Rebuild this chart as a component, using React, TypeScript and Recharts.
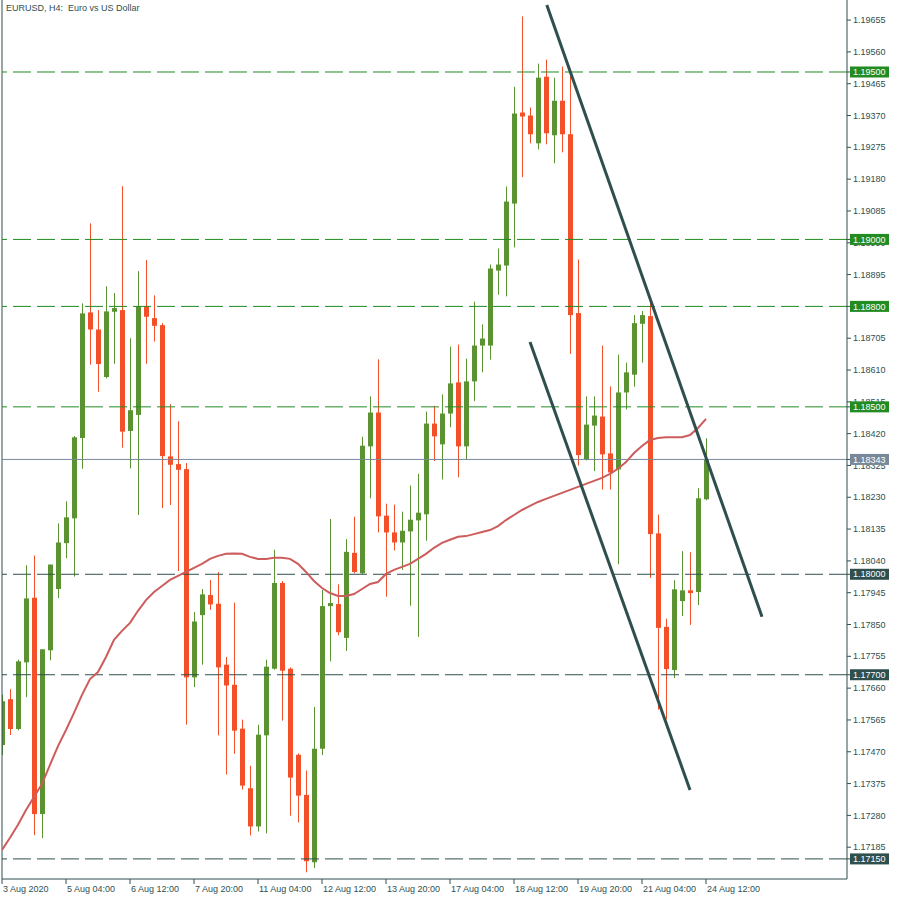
import { ComposedChart, Bar, Line, XAxis, YAxis, ReferenceLine } from "recharts";

// EURUSD H4, bars from 3 Aug 20:00 to 24 Aug 12:00
const open = [
  1.1749, 1.17627, 1.17538, 1.17737, 1.1793, 1.17284, 1.17773, 1.17956, 1.18093, 1.18167,
  1.18407, 1.18782, 1.18731, 1.18589, 1.18784, 1.18789, 1.18428, 1.18476, 1.188, 1.18765,
  1.18744, 1.18352, 1.18329, 1.18314, 1.17692, 1.17878, 1.17938, 1.17912, 1.1773, 1.1767,
  1.17539, 1.17361, 1.17247, 1.17519, 1.17718, 1.17974, 1.17718, 1.17461, 1.17341, 1.1714,
  1.17479, 1.17905, 1.17911, 1.1781, 1.18064, 1.18003, 1.18382, 1.18483, 1.18175, 1.18125,
  1.18095, 1.18128, 1.18161, 1.18179, 1.1845, 1.18388, 1.1848, 1.18573, 1.18382, 1.18576,
  1.18683, 1.18683, 1.18907, 1.18922, 1.19107, 1.19379, 1.1937, 1.19287, 1.19486, 1.19311,
  1.19414, 1.19314, 1.1878, 1.18343, 1.18444, 1.18471, 1.18361, 1.18313, 1.18543, 1.18596,
  1.18748, 1.18771, 1.18122, 1.17843, 1.17714, 1.1792, 1.17952, 1.17947, 1.18224,
];
const high = [
  1.1764, 1.17657, 1.17745, 1.18027, 1.18056, 1.17776, 1.18029, 1.18152, 1.18218, 1.18413,
  1.18809, 1.19048, 1.18789, 1.1886, 1.1884, 1.19159, 1.18705, 1.18905, 1.18938, 1.18833,
  1.1875, 1.18508, 1.18457, 1.18332, 1.17887, 1.17956, 1.17983, 1.18007, 1.17753, 1.17915,
  1.17566, 1.17428, 1.17551, 1.17745, 1.18073, 1.1798, 1.17722, 1.17465, 1.17414, 1.17604,
  1.17953, 1.18165, 1.1797, 1.18105, 1.18172, 1.18411, 1.18531, 1.18642, 1.18211, 1.18208,
  1.18187, 1.18265, 1.183, 1.18486, 1.18503, 1.18537, 1.1868, 1.18686, 1.18644, 1.18814,
  1.18746, 1.18925, 1.18973, 1.19158, 1.19456, 1.19666, 1.19394, 1.19525, 1.19537, 1.19483,
  1.19516, 1.19492, 1.1894, 1.18531, 1.18531, 1.18683, 1.18561, 1.18656, 1.18632, 1.18774,
  1.18786, 1.1881, 1.18178, 1.17867, 1.17982, 1.18069, 1.18066, 1.18257, 1.18406,
];
const low = [
  1.1746, 1.1752, 1.17534, 1.17633, 1.17221, 1.17212, 1.17743, 1.17929, 1.18048, 1.17993,
  1.18315, 1.18626, 1.18545, 1.18585, 1.18629, 1.18378, 1.18316, 1.18177, 1.18629, 1.18695,
  1.18198, 1.18207, 1.1801, 1.17551, 1.17663, 1.1773, 1.17894, 1.17519, 1.17402, 1.17464,
  1.17357, 1.1722, 1.17232, 1.17226, 1.17715, 1.17563, 1.17279, 1.17259, 1.1711, 1.17123,
  1.1746, 1.1774, 1.17818, 1.17771, 1.18003, 1.18, 1.18227, 1.18125, 1.17933, 1.18071,
  1.18013, 1.17906, 1.17813, 1.181, 1.18338, 1.18283, 1.18439, 1.1829, 1.18342, 1.18517,
  1.18603, 1.18641, 1.18835, 1.1883, 1.18976, 1.19186, 1.19287, 1.19269, 1.19284, 1.19227,
  1.1926, 1.18658, 1.18325, 1.1834, 1.18308, 1.18253, 1.18253, 1.1803, 1.18492, 1.1856,
  1.18632, 1.17989, 1.17596, 1.17567, 1.1769, 1.17875, 1.17849, 1.17908, 1.18221,
];
const close = [
  1.17621, 1.17538, 1.1774, 1.17928, 1.17284, 1.17776, 1.18029, 1.18095, 1.1817, 1.18409,
  1.18779, 1.18731, 1.18628, 1.18785, 1.18795, 1.18426, 1.1849, 1.188, 1.18769, 1.18742,
  1.18353, 1.18327, 1.18312, 1.17692, 1.17859, 1.1794, 1.1791, 1.17722, 1.17668, 1.17533,
  1.17369, 1.17247, 1.17521, 1.17724, 1.17974, 1.17712, 1.17393, 1.17339, 1.17143, 1.17479,
  1.17905, 1.17914, 1.17827, 1.18067, 1.18007, 1.18384, 1.18483, 1.18173, 1.18125, 1.18095,
  1.1813, 1.18163, 1.18184, 1.1845, 1.18412, 1.1848, 1.1857, 1.18382, 1.18576, 1.18683,
  1.18704, 1.18913, 1.18925, 1.19113, 1.19376, 1.19367, 1.19314, 1.19483, 1.19317, 1.19414,
  1.19314, 1.18774, 1.18356, 1.18447, 1.18474, 1.18358, 1.18304, 1.18543, 1.18603, 1.1875,
  1.18774, 1.1812, 1.1784, 1.17717, 1.17955, 1.17952, 1.17944, 1.18227, 1.18343,
];
// moving average
const ma = [
  1.17177, 1.17213, 1.17252, 1.17296, 1.17335, 1.17374, 1.17431, 1.17487, 1.17535, 1.17586,
  1.1764, 1.17687, 1.17708, 1.17753, 1.17804, 1.17831, 1.17855, 1.17891, 1.17923, 1.17947,
  1.17965, 1.17983, 1.17995, 1.18007, 1.18019, 1.18031, 1.18046, 1.18055, 1.18061, 1.18062,
  1.18061, 1.18052, 1.18046, 1.18046, 1.18049, 1.18049, 1.18046, 1.18031, 1.18007, 1.1798,
  1.17959, 1.17944, 1.17935, 1.17935, 1.17941, 1.17956, 1.17971, 1.17977, 1.18001, 1.18013,
  1.18022, 1.18031, 1.18046, 1.18061, 1.18079, 1.18094, 1.18103, 1.18112, 1.18114, 1.1812,
  1.18126, 1.18132, 1.18144, 1.18162, 1.18177, 1.18192, 1.18204, 1.18216, 1.18225, 1.18234,
  1.18243, 1.18252, 1.18261, 1.1827, 1.18279, 1.18288, 1.183, 1.18315, 1.18335, 1.18362,
  1.18383, 1.18401, 1.18407, 1.18409, 1.18409, 1.18409, 1.18416, 1.18437, 1.18464,
];

const timeTicks = [0, 8, 16, 24, 32, 40, 48, 56, 64, 72, 80, 88];
const timeLabels = [
  "3 Aug 2020", "5 Aug 04:00", "6 Aug 12:00", "7 Aug 20:00", "11 Aug 04:00", "12 Aug 12:00",
  "13 Aug 20:00", "17 Aug 04:00", "18 Aug 12:00", "19 Aug 20:00", "21 Aug 04:00", "24 Aug 12:00",
];
const priceTicks = [
  1.19655, 1.1956, 1.19465, 1.1937, 1.19275, 1.1918, 1.19085, 1.1899, 1.18895, 1.18705,
  1.1861, 1.18515, 1.1842, 1.18325, 1.1823, 1.18135, 1.1804, 1.17945, 1.1785, 1.17755,
  1.1766, 1.17565, 1.1747, 1.17375, 1.1728, 1.17185,
];
const greenLevels = [1.195, 1.19, 1.188, 1.185];
const darkLevels = [1.18, 1.177, 1.1715];
const lastPrice = 1.18343;

const upperChannel = [
  { bar: 68.1, price: 1.197 },
  { bar: 95, price: 1.17873 },
];
const lowerChannel = [
  { bar: 66, price: 1.18694 },
  { bar: 86, price: 1.17356 },
];

const GREEN = "#5b9232";
const RED = "#f34f28";
const LEVEL_GREEN = "#228b22";
const DARK = "#2f4f4f";
const GREY = "#778899";
const FONT = "'Liberation Sans', Arial, sans-serif";

const data = open.map((o, i) => ({
  i,
  open: o,
  high: high[i],
  low: low[i],
  close: close[i],
  range: [low[i], high[i]],
  ma: ma[i],
}));

const Candle = (props: any) => {
  const { x, y, width, height, payload } = props;
  const { open: o, close: c, high: h, low: l } = payload;
  const color = c >= o ? GREEN : RED;
  const top = Math.min(y, y + height);
  const hh = Math.abs(height);
  const py = (v: number) => top + ((h - v) / (h - l)) * hh;
  const cx = Math.round(x + width / 2);
  const bTop = py(Math.max(o, c));
  const bBot = py(Math.min(o, c));
  return (
    <g>
      <line x1={cx + 0.5} x2={cx + 0.5} y1={top} y2={top + hh} stroke={color} strokeWidth={1} />
      <rect x={cx - 2} y={bTop} width={5} height={Math.max(1, bBot - bTop)} fill={color} />
    </g>
  );
};

const XTick = (props: any) => {
  const { x, y, payload } = props;
  const idx = timeTicks.indexOf(payload.value);
  return (
    <text x={x + 1} y={y} dy="0.71em" fontSize={9} fontFamily={FONT} fill={DARK}>
      {timeLabels[idx]}
    </text>
  );
};

const YTick = (props: any) => {
  const { x, y, payload } = props;
  const v = payload.value;
  let box: string | null = null;
  if (greenLevels.includes(v)) box = LEVEL_GREEN;
  else if (darkLevels.includes(v)) box = DARK;
  else if (v === lastPrice) box = GREY;
  if (box) {
    return (
      <g>
        <rect x={x - 3} y={y - 5.5} width={39} height={11} fill={box} />
        <text x={x} y={y} dy="0.35em" fontSize={9} fontFamily={FONT} fill="#ffffff">
          {v.toFixed(5)}
        </text>
      </g>
    );
  }
  return (
    <text x={x} y={y} dy="0.35em" fontSize={9} fontFamily={FONT} fill={DARK}>
      {v.toFixed(5)}
    </text>
  );
};

export default function App() {
  return (
    <div style={{ position: "absolute", left: 0, top: 0, width: 900, height: 900, background: "#fff" }}>
      <ComposedChart width={900} height={900} data={data} margin={{ top: 0, right: 0, bottom: 0, left: 2 }}>
        <XAxis
          type="number"
          dataKey="i"
          domain={[0, 105.625]}
          allowDataOverflow
          ticks={timeTicks}
          interval={0}
          tick={<XTick />}
          tickSize={5}
          tickMargin={2}
          height={21}
          axisLine={{ stroke: DARK }}
          tickLine={{ stroke: DARK }}
        />
        <YAxis
          orientation="right"
          type="number"
          domain={[1.1709, 1.19715]}
          allowDataOverflow
          ticks={[...priceTicks, ...greenLevels, ...darkLevels, lastPrice]}
          interval={0}
          tick={<YTick />}
          tickSize={4}
          tickMargin={2}
          width={53}
          axisLine={{ stroke: DARK }}
          tickLine={{ stroke: DARK }}
        />
        <ReferenceLine x={0} stroke={DARK} />
        {greenLevels.map((v) => (
          <ReferenceLine key={v} y={v} stroke={LEVEL_GREEN} strokeDasharray="18 6" />
        ))}
        {darkLevels.map((v) => (
          <ReferenceLine key={v} y={v} stroke={DARK} strokeDasharray="18 6" />
        ))}
        <ReferenceLine y={lastPrice} stroke={GREY} />
        <Bar dataKey="range" barSize={5} shape={<Candle />} isAnimationActive={false} />
        <Line dataKey="ma" type="linear" stroke="#cd5c5c" strokeWidth={2} dot={false} isAnimationActive={false} />
        <ReferenceLine
          segment={upperChannel.map((p) => ({ x: p.bar, y: p.price }))}
          stroke={DARK}
          strokeWidth={3}
        />
        <ReferenceLine
          segment={lowerChannel.map((p) => ({ x: p.bar, y: p.price }))}
          stroke={DARK}
          strokeWidth={3}
        />
      </ComposedChart>
      <div
        style={{
          position: "absolute",
          left: 6,
          top: 3,
          fontSize: 9,
          fontFamily: FONT,
          color: DARK,
          whiteSpace: "pre",
        }}
      >
        {"EURUSD, H4:  Euro vs US Dollar"}
      </div>
    </div>
  );
}
